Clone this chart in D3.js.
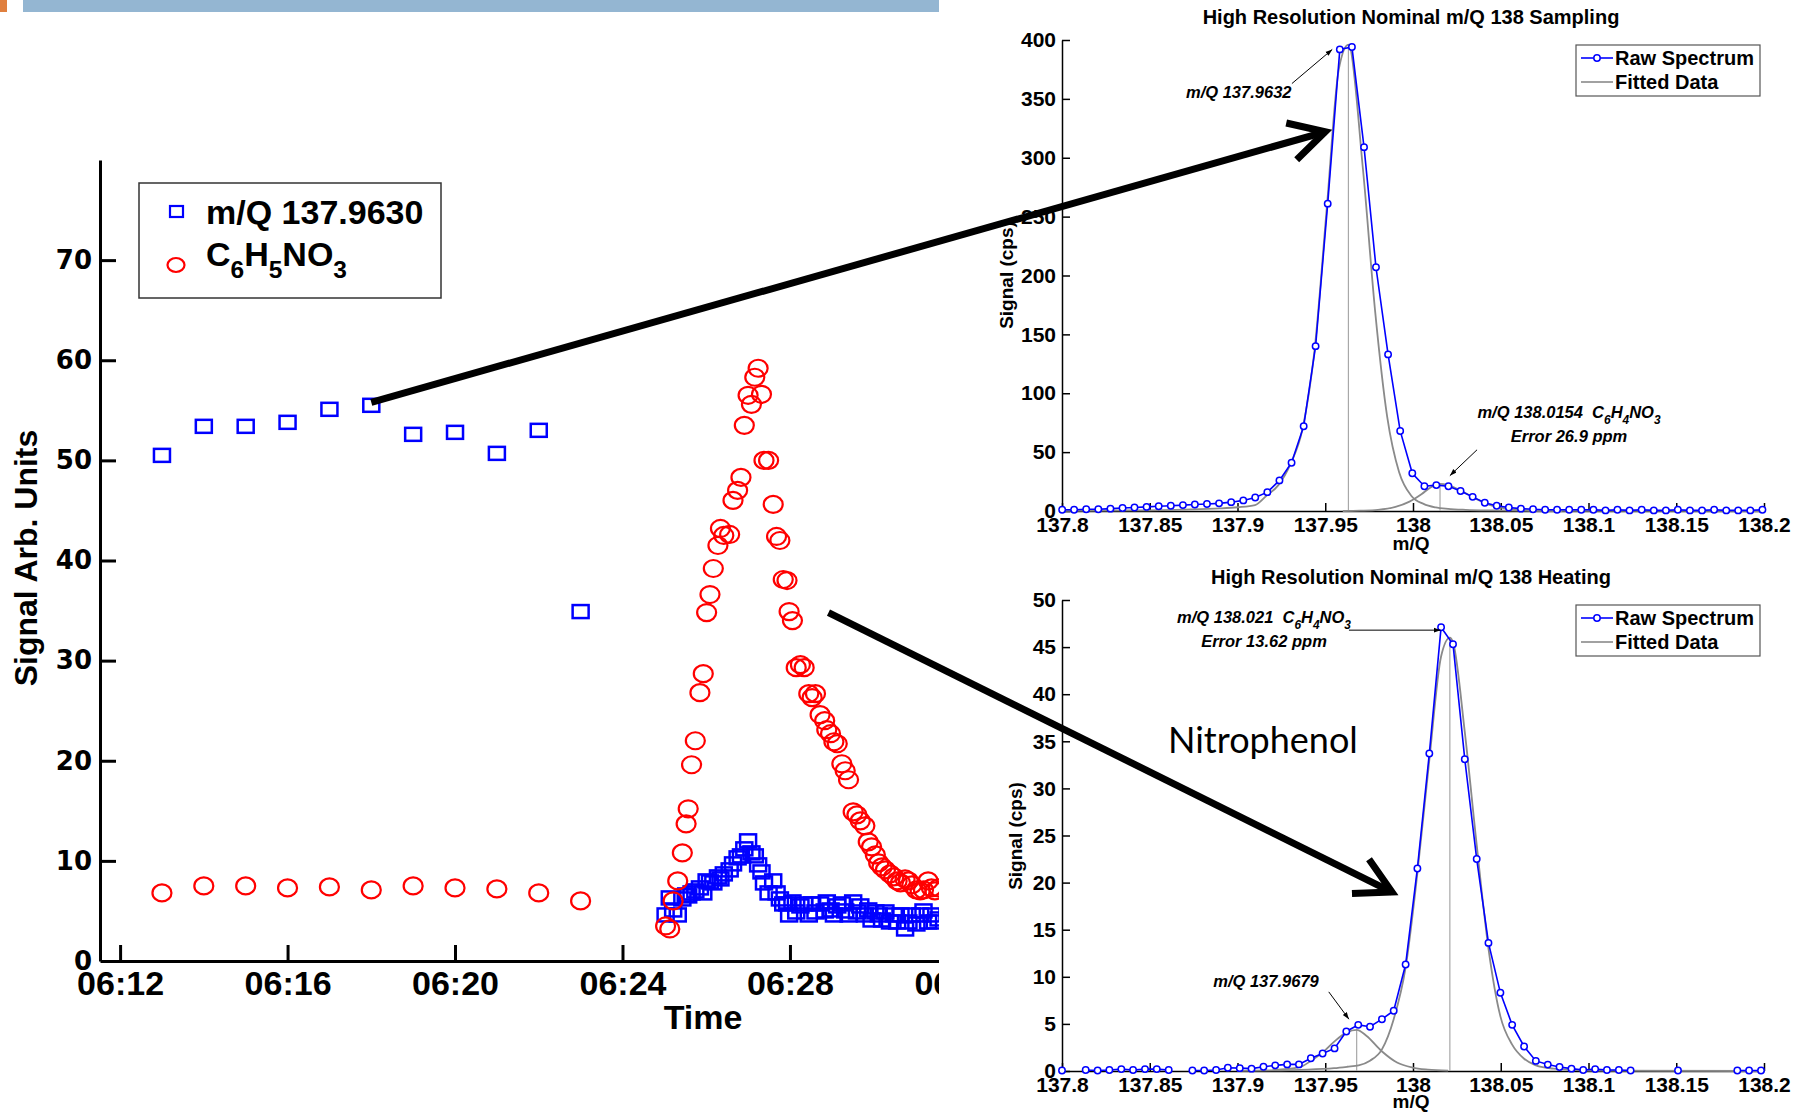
<!DOCTYPE html>
<html>
<head>
<meta charset="utf-8">
<script src="https://cdn.jsdelivr.net/npm/d3@7"></script>
<style>
  html, body { margin: 0; padding: 0; background: #fff; }
  svg { display: block; }
  text { white-space: pre; }
</style>
</head>
<body>
<svg id="fig" width="1796" height="1112"></svg>
<script>
// ---------------- time series (minutes after 06:00) ----------------
const minuteTimes  = [13, 14, 15, 16, 17, 18, 19, 20, 21, 22, 23];
const minuteMz138  = [50.5, 53.4, 53.4, 53.8, 55.1, 55.5, 52.6, 52.8, 50.7, 53.0, 34.9];
const minuteNitro  = [6.8, 7.5, 7.5, 7.3, 7.4, 7.1, 7.5, 7.3, 7.2, 6.8, 6.0];

const heatTimes = [25.03,25.13,25.21,25.32,25.43,25.52,25.57,25.65,25.74,25.85,
                   25.93,26.01,26.09,26.17,26.28,26.34,26.42,26.56,26.64,26.75,
                   26.83,26.91,27.00,27.08,27.16,27.24,27.32,27.38,27.49,27.60,
                   27.68,27.76,27.84,27.93,27.98,28.06,28.15,28.25,28.34,28.45,
                   28.53,28.61,28.72,28.83,28.88,28.97,29.05,29.13,29.24,29.32,
                   29.40,29.51,29.60,29.68,29.79,29.87,29.95,30.04,30.12,30.20,
                   30.28,30.39,30.48,30.56,30.64,30.75,30.83,30.91,31.02,31.11,
                   31.19,31.30,31.38,31.46,31.55];
const heatMz138 = [4.6,6.3,5.1,4.6,6.2,6.6,6.5,6.8,7.0,7.3,
                   6.8,8.0,7.9,7.8,8.4,8.2,8.7,9.1,9.7,10.3,
                   10.5,11.2,12.0,10.8,10.5,9.6,8.9,7.8,6.8,8.0,
                   6.8,6.2,5.7,5.7,4.6,5.9,4.9,5.5,5.7,4.6,
                   5.7,4.9,5.7,5.0,5.9,5.1,4.6,5.5,5.7,5.0,
                   4.6,5.9,4.9,5.5,4.6,5.1,4.1,4.9,4.6,4.1,
                   4.9,3.9,4.6,3.9,4.6,3.2,3.9,4.6,3.7,4.6,
                   5.0,3.9,4.6,3.9,4.2];
const heatNitro = [3.5,3.2,6.0,8.0,10.8,13.7,15.2,19.6,22.0,26.8,
                   28.7,34.8,36.6,39.2,41.5,43.2,42.5,42.6,46.0,47.0,
                   48.3,53.5,56.5,55.6,58.3,59.2,56.6,50.0,50.0,45.6,
                   42.4,42.0,38.1,38.0,34.9,34.0,29.3,29.6,29.3,26.7,
                   26.3,26.7,24.6,24.0,23.1,22.7,21.9,21.7,19.7,19.0,
                   18.1,14.9,14.6,14.0,13.5,11.9,11.4,10.6,9.8,9.4,
                   9.1,8.7,8.4,8.0,7.8,8.2,8.0,7.6,7.1,7.0,
                   7.1,8.0,7.3,7.0,7.3];

const timeTicks   = ["06:12", "06:16", "06:20", "06:24", "06:28", "06:32"];
const signalTicks = [0, 10, 20, 30, 40, 50, 60, 70];

// ---------------- high resolution spectra ----------------
const mzTicks = [137.8, 137.85, 137.9, 137.95, 138, 138.05, 138.1, 138.15, 138.2];

// sampling spectrum
const sampMz  = [137.8001,137.8069,137.8138,137.8207,137.8276,137.8345,137.8413,137.8482,137.8551,137.8620,
                 137.8689,137.8757,137.8826,137.8895,137.8964,137.9033,137.9101,137.9170,137.9239,137.9308,
                 137.9377,137.9445,137.9514,137.9583,137.9652,137.9721,137.9789,137.9858,137.9927,137.9996,
                 138.0065,138.0133,138.0202,138.0271,138.0340,138.0409,138.0477,138.0546,138.0615,138.0684,
                 138.0753,138.0821,138.0890,138.0959,138.1028,138.1097,138.1165,138.1234,138.1303,138.1372,
                 138.1441,138.1509,138.1578,138.1647,138.1716,138.1785,138.1853,138.1922,138.1991];
const sampRaw = [1,1,1.5,1.5,2,2.5,3,3.5,4,4.5,
                 5,5.5,6,6.5,7.5,9,11.5,16,26,41,
                 72,140,261,392,394,309,207,133,68,32,
                 21,22,21,17,12,7,4.5,3,2,1.5,
                 1,1,1,1,1,0.5,1,0.5,1,0.5,
                 0.5,1,0.5,0.5,1,0.5,0.5,0.5,1];
const sampFitMainMz = [137.80,137.84,137.87,137.89,137.90,137.91,137.9165,137.9233,137.9302,137.9371,
                       137.9440,137.9509,137.9577,137.9632,137.9715,137.9784,137.9853,137.9921,137.999,138.006,
                       138.013,138.02,138.03,138.045,138.07,138.2];
const sampFitMain   = [0.2,0.5,1.2,2.2,3.2,5,13,22,40,70,
                       138,258,375,396,290,170,80,33,13,6,
                       3,1.8,1,0.5,0.2,0];
const sampFitMinorMz = [137.96,137.97,137.98,137.99,137.998,138.005,138.010,138.0154,138.020,138.027,
                        138.035,138.042,138.050,138.060,138.070,138.085];
const sampFitMinor   = [0,0.3,1,3.5,8,14.5,20,23,22,17.5,
                        11,6,2.8,1,0.3,0];

// heating spectrum (null = no reading)
const heatMz  = [137.8000,137.8068,137.8135,137.8203,137.8270,137.8338,137.8405,137.8473,137.8540,137.8608,
                 137.8675,137.8743,137.8810,137.8878,137.8945,137.9013,137.9080,137.9148,137.9215,137.9283,
                 137.9350,137.9418,137.9485,137.9553,137.9620,137.9688,137.9755,137.9823,137.9890,137.9958,
                 138.0025,138.0093,138.0160,138.0228,138.0295,138.0363,138.0430,138.0498,138.0565,138.0633,
                 138.0700,138.0768,138.0835,138.0903,138.0970,138.1038,138.1105,138.1173,138.1240,138.1308,
                 138.1375,138.1443,138.1510,138.1578,138.1645,138.1713,138.1780,138.1848,138.1915,138.1983];
const heatRaw = [0.05,null,0.1,0.05,0.1,0.2,0.1,0.2,0.2,0.1,
                 null,0.05,0.05,0.1,0.35,0.3,0.25,0.45,0.6,0.7,
                 0.7,1.35,1.85,2.4,4.2,4.9,4.7,5.5,6.4,11.3,
                 21.5,33.7,47.1,45.3,33.1,22.5,13.6,8.3,4.9,2.6,
                 1.07,0.68,0.43,0.25,0.1,0.2,0.1,0.1,0.05,null,
                 null,null,0.05,null,null,null,null,0.05,0.05,0.05];
const heatFitMainMz = [137.90,137.94,137.955,137.9625,137.969,137.9755,137.9823,137.989,137.9958,138.0025,
                       138.0093,138.016,138.021,138.0228,138.0295,138.0363,138.043,138.0498,138.0565,138.0633,
                       138.07,138.08,138.10,138.2];
const heatFitMain   = [0.02,0.15,0.3,0.45,0.6,1.1,2.3,5.5,11,21,
                       33,44,46,45.5,36,24,13,5.8,2.8,1.3,
                       0.6,0.25,0.05,0];
const heatFitMinorMz = [137.92,137.9354,137.942,137.9488,137.9556,137.9623,137.9679,137.9734,137.9822,137.9909,
                        137.9997,138.0085,138.02];
const heatFitMinor   = [0.1,0.4,1.1,2,3.2,4.1,4.36,3.75,2.1,0.9,
                        0.36,0.14,0.03];

// ---------------- drawing ----------------
const NARROW = "'Liberation Sans Narrow','Arial Narrow','Liberation Sans',Arial,sans-serif";
const WIDE   = "'DejaVu Sans',Verdana,sans-serif";
const ARIAL  = "'Liberation Sans',Arial,sans-serif";
const svg = d3.select("#fig");

const defs = svg.append("defs");
defs.append("clipPath").attr("id", "leftClip")
  .append("rect").attr("x", 0).attr("y", 0).attr("width", 939).attr("height", 1112);
defs.append("marker").attr("id", "headSmall")
  .attr("viewBox", "0 0 10 10").attr("refX", 10).attr("refY", 5)
  .attr("markerWidth", 7).attr("markerHeight", 7).attr("orient", "auto")
  .append("path").attr("d", "M0,1.5 L10,5 L0,8.5 Z").attr("fill", "#000");

// slide header strip
svg.append("rect").attr("x", 0).attr("y", 0).attr("width", 7).attr("height", 12).attr("fill", "#E0803F");
svg.append("rect").attr("x", 23).attr("y", 0).attr("width", 916).attr("height", 12).attr("fill", "#94B6D2");

// text with sub-scripted parts: parts = [[string, isSub], ...]
function richText(g, x, y, parts, size, opts = {}) {
  const t = g.append("text").attr("x", x).attr("y", y)
    .attr("font-family", opts.family || NARROW)
    .attr("font-weight", "bold")
    .attr("font-style", opts.italic ? "italic" : "normal")
    .attr("font-size", size)
    .attr("text-anchor", opts.anchor || "start")
    .attr("fill", "#000");
  let down = 0;
  parts.forEach(([s, sub]) => {
    const target = sub ? size * 0.35 : 0;
    t.append("tspan").attr("dy", target - down)
      .attr("font-size", sub ? size * 0.72 : size).text(s);
    down = target;
  });
  return t;
}

// ================= left: time series =================
const t0 = d3.timeParse("%H:%M")("06:00");
const atMin = m => new Date(+t0 + m * 60000);
const parseHM = d3.timeParse("%H:%M");

const xL = d3.scaleTime().domain([atMin(11.52), atMin(31.56)]).range([100, 939]);
const yL = d3.scaleLinear().domain([0, 80]).range([961, 160]);

const left = svg.append("g").attr("clip-path", "url(#leftClip)");

const xAxisL = d3.axisBottom(xL)
  .tickValues(timeTicks.map(parseHM))
  .tickFormat(d3.timeFormat("%H:%M"))
  .tickSize(-16).tickSizeOuter(0).tickPadding(10);
const gxL = left.append("g").attr("transform", "translate(0,961)").call(xAxisL);
gxL.select(".domain").attr("stroke", "#000").attr("stroke-width", 3);
gxL.selectAll(".tick line").attr("stroke", "#000").attr("stroke-width", 3);
gxL.selectAll(".tick text").attr("font-family", NARROW).attr("font-weight", "bold")
  .attr("font-size", 34).attr("fill", "#000");

const yAxisL = d3.axisLeft(yL).tickValues(signalTicks)
  .tickSize(-16).tickSizeOuter(0).tickPadding(8);
const gyL = svg.append("g").attr("transform", "translate(100,0)").call(yAxisL);
gyL.select(".domain").attr("stroke", "#000").attr("stroke-width", 3);
gyL.selectAll(".tick line").attr("stroke", "#000").attr("stroke-width", 3)
  .filter(d => d === 0).remove();
gyL.selectAll(".tick text").attr("font-family", WIDE).attr("font-weight", "bold")
  .attr("font-size", 26).attr("fill", "#000");

svg.append("text").attr("transform", "translate(26,558) rotate(-90)")
  .attr("text-anchor", "middle").attr("dominant-baseline", "central")
  .attr("font-family", NARROW).attr("font-weight", "bold").attr("font-size", 32)
  .text("Signal Arb. Units");
svg.append("text").attr("x", 703).attr("y", 1029).attr("text-anchor", "middle")
  .attr("font-family", NARROW).attr("font-weight", "bold").attr("font-size", 34)
  .text("Time");

const mzSeries = minuteTimes.map((m, i) => ({ t: atMin(m), v: minuteMz138[i] }))
  .concat(heatTimes.map((m, i) => ({ t: atMin(m), v: heatMz138[i] })));
const nitroSeries = minuteTimes.map((m, i) => ({ t: atMin(m), v: minuteNitro[i] }))
  .concat(heatTimes.map((m, i) => ({ t: atMin(m), v: heatNitro[i] })));

left.append("g").selectAll("rect").data(mzSeries).join("rect")
  .attr("x", d => xL(d.t) - 8).attr("y", d => yL(d.v) - 6.5)
  .attr("width", 16).attr("height", 13)
  .attr("fill", "none").attr("stroke", "#0000FF").attr("stroke-width", 2.5);
left.append("g").selectAll("ellipse").data(nitroSeries).join("ellipse")
  .attr("cx", d => xL(d.t)).attr("cy", d => yL(d.v))
  .attr("rx", 9.5).attr("ry", 8.5)
  .attr("fill", "none").attr("stroke", "#FF0000").attr("stroke-width", 2.2);

// legend
const lg = svg.append("g");
lg.append("rect").attr("x", 139).attr("y", 183).attr("width", 302).attr("height", 115)
  .attr("fill", "#fff").attr("stroke", "#333").attr("stroke-width", 1.5);
lg.append("rect").attr("x", 170).attr("y", 206).attr("width", 13).attr("height", 11)
  .attr("fill", "none").attr("stroke", "#0000FF").attr("stroke-width", 2.2);
lg.append("ellipse").attr("cx", 176).attr("cy", 265).attr("rx", 8.5).attr("ry", 7)
  .attr("fill", "none").attr("stroke", "#FF0000").attr("stroke-width", 2.2);
richText(lg, 206, 224, [["m/Q 137.9630", 0]], 34, { family: ARIAL });
richText(lg, 206, 266, [["C", 0], ["6", 1], ["H", 0], ["5", 1], ["NO", 0], ["3", 1]], 34, { family: ARIAL });

// ================= right: spectra =================
const xS = d3.scaleLinear().domain([137.8, 138.2]).range([1062, 1764]);
const yTop = d3.scaleLinear().domain([0, 400]).range([511, 40]);
const yBot = d3.scaleLinear().domain([0, 50]).range([1071, 600]);

function spectrumPanel(cfg) {
  const g = svg.append("g");
  const y = cfg.y;
  const y0 = y.range()[0];

  // title
  g.append("text").attr("x", 1411).attr("y", cfg.titleY).attr("text-anchor", "middle")
    .attr("font-family", NARROW).attr("font-weight", "bold").attr("font-size", 20)
    .text(cfg.title);

  // axes
  const ax = d3.axisBottom(xS).tickValues(mzTicks)
    .tickFormat(d => String(+d.toFixed(2)))
    .tickSize(-8).tickSizeOuter(0).tickPadding(6);
  const gx = g.append("g").attr("transform", `translate(0,${y0})`).call(ax);
  const ay = d3.axisLeft(y).tickValues(cfg.yTicks)
    .tickSize(-8).tickSizeOuter(0).tickPadding(6);
  const gy = g.append("g").attr("transform", `translate(${xS.range()[0]},0)`).call(ay);
  [gx, gy].forEach(a => {
    a.select(".domain").attr("stroke", "#000").attr("stroke-width", 1.5);
    a.selectAll(".tick line").attr("stroke", "#000").attr("stroke-width", 1.5);
    a.selectAll(".tick text").attr("font-family", NARROW).attr("font-weight", "bold")
      .attr("font-size", 21).attr("fill", "#000");
  });
  g.append("text").attr("x", 1411).attr("y", cfg.xLabelY).attr("text-anchor", "middle")
    .attr("font-family", NARROW).attr("font-weight", "bold").attr("font-size", 19)
    .text("m/Q");
  g.append("text").attr("transform", `translate(${cfg.yLabelX},${cfg.yLabelY}) rotate(-90)`)
    .attr("text-anchor", "middle").attr("dominant-baseline", "central")
    .attr("font-family", NARROW).attr("font-weight", "bold").attr("font-size", 19)
    .text("Signal (cps)");

  // fitted components with centre lines
  const fitLine = d3.line().x(d => xS(d[0])).y(d => y(d[1])).curve(d3.curveMonotoneX);
  cfg.fits.forEach(f => {
    g.append("line")
      .attr("x1", xS(f.centre)).attr("x2", xS(f.centre))
      .attr("y1", y(0)).attr("y2", y(f.height))
      .attr("stroke", "#a8a8a8").attr("stroke-width", 1.2);
  });
  cfg.fits.forEach(f => {
    g.append("path").datum(f.mz.map((m, i) => [m, f.sig[i]]))
      .attr("d", fitLine).attr("fill", "none")
      .attr("stroke", "#8a8a8a").attr("stroke-width", 1.8);
  });

  // raw spectrum
  const rawPts = cfg.rawMz.map((m, i) => [m, cfg.raw[i]]);
  const rawLine = d3.line().defined(d => d[1] != null).x(d => xS(d[0])).y(d => y(d[1]));
  g.append("path").datum(rawPts).attr("d", rawLine).attr("fill", "none")
    .attr("stroke", "#0000FF").attr("stroke-width", 1.6);
  g.append("g").selectAll("circle").data(rawPts.filter(d => d[1] != null)).join("circle")
    .attr("cx", d => xS(d[0])).attr("cy", d => y(d[1])).attr("r", 3.2)
    .attr("fill", "#fff").attr("stroke", "#0000FF").attr("stroke-width", 1.5);

  // legend
  const ly = cfg.legendY;
  const lgd = g.append("g");
  lgd.append("rect").attr("x", 1576).attr("y", ly).attr("width", 184).attr("height", 51)
    .attr("fill", "#fff").attr("stroke", "#555").attr("stroke-width", 1.2);
  lgd.append("line").attr("x1", 1581).attr("x2", 1613).attr("y1", ly + 13).attr("y2", ly + 13)
    .attr("stroke", "#0000FF").attr("stroke-width", 1.6);
  lgd.append("circle").attr("cx", 1597).attr("cy", ly + 13).attr("r", 3.2)
    .attr("fill", "#fff").attr("stroke", "#0000FF").attr("stroke-width", 1.5);
  lgd.append("line").attr("x1", 1581).attr("x2", 1613).attr("y1", ly + 37).attr("y2", ly + 37)
    .attr("stroke", "#8a8a8a").attr("stroke-width", 1.6);
  lgd.append("text").attr("x", 1615).attr("y", ly + 20).attr("font-family", NARROW)
    .attr("font-weight", "bold").attr("font-size", 20).text("Raw Spectrum");
  lgd.append("text").attr("x", 1615).attr("y", ly + 44).attr("font-family", NARROW)
    .attr("font-weight", "bold").attr("font-size", 20).text("Fitted Data");

  // annotations
  cfg.notes.forEach(n => {
    n.lines.forEach((ln, i) => richText(g, n.x, n.y + i * 24, ln, 16.5, { italic: true, anchor: n.anchor || "start" }));
    g.append("line").attr("x1", n.from[0]).attr("y1", n.from[1]).attr("x2", n.to[0]).attr("y2", n.to[1])
      .attr("stroke", "#000").attr("stroke-width", 1).attr("marker-end", "url(#headSmall)");
  });
  return g;
}

spectrumPanel({
  title: "High Resolution Nominal m/Q 138 Sampling", titleY: 24,
  y: yTop, yTicks: [0, 50, 100, 150, 200, 250, 300, 350, 400],
  xLabelY: 550, yLabelX: 1006, yLabelY: 275, legendY: 45,
  rawMz: sampMz, raw: sampRaw,
  fits: [
    { centre: 137.9632, height: 396, mz: sampFitMainMz, sig: sampFitMain },
    { centre: 138.0154, height: 23, mz: sampFitMinorMz, sig: sampFitMinor }
  ],
  notes: [
    { x: 1186, y: 98, lines: [[["m/Q 137.9632", 0]]],
      from: [xS(137.931), yTop(363)], to: [xS(137.954), yTop(392)] },
    { x: 1569, y: 418, anchor: "middle",
      lines: [[["m/Q 138.0154  C", 0], ["6", 1], ["H", 0], ["4", 1], ["NO", 0], ["3", 1]],
              [["Error 26.9 ppm", 0]]],
      from: [xS(138.0365), yTop(52)], to: [xS(138.021), yTop(30)] }
  ]
});

spectrumPanel({
  title: "High Resolution Nominal m/Q 138 Heating", titleY: 584,
  y: yBot, yTicks: [0, 5, 10, 15, 20, 25, 30, 35, 40, 45, 50],
  xLabelY: 1108, yLabelX: 1015, yLabelY: 836, legendY: 605,
  rawMz: heatMz, raw: heatRaw,
  fits: [
    { centre: 138.021, height: 46, mz: heatFitMainMz, sig: heatFitMain },
    { centre: 137.9679, height: 4.36, mz: heatFitMinorMz, sig: heatFitMinor }
  ],
  notes: [
    { x: 1264, y: 623, anchor: "middle",
      lines: [[["m/Q 138.021  C", 0], ["6", 1], ["H", 0], ["4", 1], ["NO", 0], ["3", 1]],
              [["Error 13.62 ppm", 0]]],
      from: [xS(137.9635), yBot(46.8)], to: [xS(138.0157), yBot(46.8)] },
    { x: 1266, y: 987, anchor: "middle", lines: [[["m/Q 137.9679", 0]]],
      from: [xS(137.952), yBot(8.4)], to: [xS(137.9635), yBot(5.5)] }
  ]
});

// label for the heating panel
svg.append("text").attr("x", 1168).attr("y", 753)
  .attr("font-family", "Lato,'Open Sans',sans-serif").attr("font-size", 36)
  .text("Nitrophenol");

// ================= linking arrows =================
function bigArrow(x1, y1, x2, y2) {
  const a = Math.atan2(y2 - y1, x2 - x1), L = 40, s = 0.5;
  const g = svg.append("g").attr("stroke", "#000").attr("fill", "none")
    .attr("stroke-width", 7).attr("stroke-linecap", "butt").attr("stroke-linejoin", "miter");
  g.append("line").attr("x1", x1).attr("y1", y1).attr("x2", x2).attr("y2", y2);
  g.append("polyline").attr("points", [
    [x2 - L * Math.cos(a - s), y2 - L * Math.sin(a - s)],
    [x2, y2],
    [x2 - L * Math.cos(a + s), y2 - L * Math.sin(a + s)]
  ].map(p => p.join(",")).join(" "));
}
bigArrow(xL(atMin(18)), yL(55.5) - 3, xS(137.95), yTop(322));
bigArrow(xL(atMin(28.92)), yL(34.8), xS(137.988), yBot(19));
</script>
</body>
</html>
